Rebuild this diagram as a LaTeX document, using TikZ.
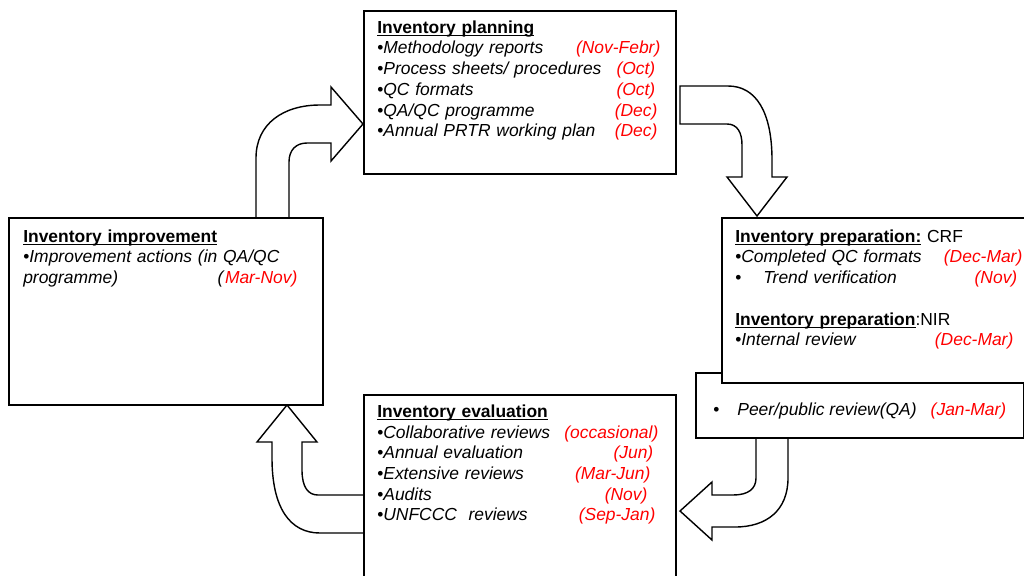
\documentclass[tikz,border=0pt]{standalone}
\usepackage{fontspec}
\setmainfont{Liberation Sans}
\usepackage{xcolor}
\definecolor{datered}{HTML}{FF0000}
\newcommand{\ulbf}[1]{\underline{\raisebox{0pt}[\height][0pt]{\textbf{#1}}}}
\newcommand{\bul}[1]{\textbullet\textit{#1}}
\newcommand{\when}[2][0]{\textcolor{datered}{\textit{#2}}\kern#1pt}
\usepackage{tikz}
\usetikzlibrary{positioning}

\begin{document}
\begin{tikzpicture}[x=0.025cm, y=-0.025cm,
    box/.style={rectangle, draw=black, fill=white, line width=1.3pt, anchor=north west, inner sep=0pt},
    txt/.style={anchor=north west, inner sep=0pt, align=left, font=\fontsize{12.4}{14.7}\selectfont},
    blockarrow/.style={draw=black, fill=white, line width=1pt, line join=miter}
  ]
    \useasboundingbox (0,0) rectangle (1024,575);
    \fill[white] (0,0) rectangle (1024,575);

    % curved block arrows, drawn first so the boxes sit on their ends
    \draw[blockarrow] (256,217) -- (256,158) .. controls (256,124) and (283,105) .. (320,105) -- (331,105) -- (331,87) -- (363,124) -- (331,161) -- (331,143) -- (307,143) .. controls (296,143) and (289,150) .. (289,162) -- (289,217);
    \draw[blockarrow] (680,86) -- (728,86) .. controls (756,86) and (772,112) .. (772,160) -- (772,177) -- (787,177) -- (757,216) -- (727,177) -- (742,177) -- (742,145) .. controls (742,132) and (737,124) .. (727,124) -- (680,124) -- cycle;
    \draw[blockarrow] (756,437) -- (756,478) .. controls (756,489) and (748,495) .. (733,495) -- (712,495) -- (712,482) -- (680,511) -- (712,540) -- (712,527) -- (735,527) .. controls (767,527) and (788,510) .. (788,478) -- (788,437);
    \draw[blockarrow] (363,495) -- (318,495) .. controls (308,495) and (302,487) .. (302,470) -- (302,442) -- (317,442) -- (287,405) -- (257,442) -- (272,442) -- (272,458) .. controls (272,508) and (290,533) .. (320,533) -- (363,533);

    % boxes
    \node[box, minimum width=7.8cm, minimum height=4.075cm] (plan) at (363,10) {};
    \node[box, minimum width=7.85cm, minimum height=4.675cm] (impr) at (8,217) {};
    \node[box, minimum width=8.2cm, minimum height=1.625cm] (peer) at (695,372) {};
    \node[box, minimum width=7.75cm, minimum height=4.125cm] (prep) at (721,217) {};
    \node[box, minimum width=7.8cm, minimum height=5cm] (eval) at (363,394) {};

    % texts
    \node[txt, text width=7.075cm] (plantxt) at (377,20.4) {\ulbf{Inventory planning}\\
      \bul{Methodology reports}\hfill\when{(Nov-Febr)}\\
      \bul{Process sheets/ procedures}\hfill\when[3.6]{(Oct)}\\
      \bul{QC formats}\hfill\when[3.6]{(Oct)}\\
      \bul{QA/QC programme}\hfill\when[2.1]{(Dec)}\\
      \bul{Annual PRTR working plan}\hfill\when[2.1]{(Dec)}};

    \node[txt, text width=6.85cm] (imprtxt) at (23,229.4) {\ulbf{Inventory improvement}\\
      \bul{Improvement actions (in\ QA/QC}\\
      \textit{programme)}\hfill\textit{(}\when{Mar-Nov)}};

    \node[txt, text width=7.175cm] (preptxt) at (735,229.4) {\ulbf{Inventory preparation:}\ CRF\\
      \bul{Completed QC formats}\hfill\when{(Dec-Mar)}\\
      \textbullet\hspace{15.6pt}\textit{Trend verification}\hfill\when[3.6]{(Nov)}\\[14.7pt]
      \ulbf{Inventory preparation}:NIR\\
      \bul{Internal review}\hfill\when[6.4]{(Dec-Mar)}};

    \node[txt, anchor=base west] (peertxt) at (713,415) {\textbullet\hspace{12.8pt}\textit{Peer/public review(QA)}\hspace{10pt}\when{(Jan-Mar)}};

    \node[txt, text width=7.025cm] (evaltxt) at (377,404.4) {\ulbf{Inventory evaluation}\\
      \bul{Collaborative reviews}\hfill\when{(occasional)}\\
      \bul{Annual evaluation}\hfill\when[3.6]{(Jun)}\\
      \bul{Extensive reviews}\hfill\when[5.7]{(Mar-Jun)}\\
      \bul{Audits}\hfill\when[7.8]{(Nov)}\\
      \bul{UNFCCC\ \ reviews}\hfill\when[2.1]{(Sep-Jan)}};
\end{tikzpicture}
\end{document}
